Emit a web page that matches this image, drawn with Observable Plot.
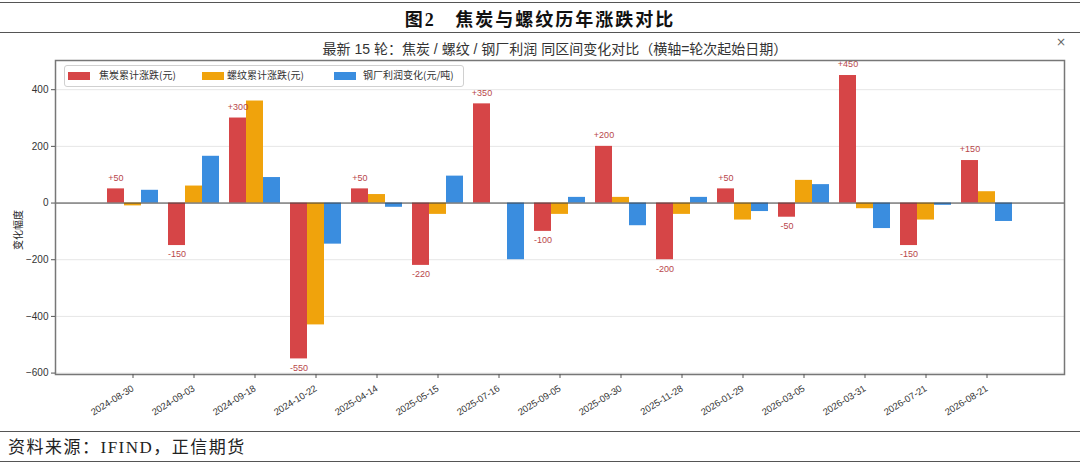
<!DOCTYPE html>
<html>
<head>
<meta charset="utf-8">
<script src="https://cdn.jsdelivr.net/npm/d3@7"></script>
<script src="https://cdn.jsdelivr.net/npm/@observablehq/plot@0.6"></script>
<style>
  html, body { margin: 0; padding: 0; background: #fff; }
  #page { position: relative; width: 1080px; height: 463px; overflow: hidden; background: #fff; }
  .hline { position: absolute; left: 0; width: 1080px; height: 0; border-top: 1.5px solid #555; }
  #title { position: absolute; top: 5px; left: 0; width: 1080px; text-align: center;
    font-family: "Liberation Serif", "Noto Sans CJK SC", serif; font-weight: bold; font-size: 18px; color: #111; letter-spacing: 2px; }
  #subtitle { position: absolute; top: 38px; left: 15px; width: 1080px; text-align: center;
    font-family: "Liberation Sans", "Noto Sans CJK SC", sans-serif; font-size: 14px; color: #333; }
  #close { position: absolute; top: 35px; left: 1056px; font-family: "DejaVu Sans", sans-serif; font-size: 12px; color: #666; }
  #chart { position: absolute; top: 36px; left: 0; }
  #ylabel { position: absolute; left: 17px; top: 230px; transform: translate(-50%, -50%) rotate(-90deg);
    font-family: "Noto Sans CJK SC", sans-serif; font-size: 10px; color: #222; white-space: nowrap; }
  #legend { position: absolute; left: 64px; top: 65px; width: 398px; height: 20px; border: 1px solid #d0d0d0; border-radius: 3px;
    background: rgba(255,255,255,0.85); font-family: "Noto Sans CJK SC", sans-serif; font-size: 10px; color: #333; }
  .sw { position: absolute; top: 6px; width: 22px; height: 8px; }
  .lt { position: absolute; top: 2px; white-space: nowrap; line-height: 14px; }
  #caption { position: absolute; top: 433px; left: 8px; font-family: "Liberation Serif", "Noto Sans CJK SC", serif; font-size: 17px; color: #222; letter-spacing: 1.5px; }
</style>
</head>
<body>
<div id="page">
  <div class="hline" style="top:2px"></div>
  <div id="title">图2&nbsp;&nbsp;&nbsp;焦炭与螺纹历年涨跌对比</div>
  <div class="hline" style="top:32px"></div>
  <div id="chart"></div>
  <div id="subtitle">最新 15 轮：焦炭 / 螺纹 / 钢厂利润 同区间变化对比（横轴=轮次起始日期）</div>
  <div id="close">×</div>
  <div id="ylabel">变化幅度</div>
  <div id="legend"></div>
  <div class="hline" style="top:431px"></div>
  <div id="caption">资料来源：IFIND，正信期货</div>
  <div class="hline" style="top:461px"></div>
</div>
<script>
// ---- data ----
const dates = ["2024-08-30","2024-09-03","2024-09-18","2024-10-22","2025-04-14","2025-05-15","2025-07-16","2025-09-05","2025-09-30","2025-11-28","2026-01-29","2026-03-05","2026-03-31","2026-07-21","2026-08-21"];
const coke   = [50, -150, 300, -550, 50, -220, 350, -100, 200, -200, 50, -50, 450, -150, 150];
const rebar  = [-10, 60, 360, -430, 30, -40, 0, -40, 20, -40, -60, 80, -20, -60, 40];
const profit = [45, 165, 90, -145, -15, 95, -200, 20, -80, 20, -30, 65, -90, -8, -65];
const seriesNames = ["焦炭累计涨跌(元)", "螺纹累计涨跌(元)", "钢厂利润变化(元/吨)"];
const colors = ["#d64547", "#f0a30c", "#3a8ddf"];
const yTicks = [-600, -400, -200, 0, 200, 400];

const rows = (vals) => dates.map((d, i) => ({date: d, value: vals[i]}));
const cokeRows = rows(coke), rebarRows = rows(rebar), profitRows = rows(profit);
const fmt = v => (v > 0 ? "+" : "") + v;

const chart = Plot.plot({
  width: 1080,
  height: 396,
  marginLeft: 55,
  marginRight: 16,
  marginTop: 24,
  marginBottom: 58,
  style: {fontFamily: "'Liberation Sans', Arial, sans-serif", color: "#333", background: "transparent"},
  x: {domain: dates, paddingInner: 0.724, paddingOuter: 1.052, label: null},
  y: {domain: [-605, 503], label: null},
  marks: [
    Plot.gridY(yTicks, {stroke: "#e6e6e6", strokeOpacity: 1}),
    Plot.barY(cokeRows, {x: "date", y: "value", fill: colors[0], dx: -17}),
    Plot.barY(rebarRows, {x: "date", y: "value", fill: colors[1]}),
    Plot.barY(profitRows, {x: "date", y: "value", fill: colors[2], dx: 17}),
    Plot.ruleY([0], {stroke: "#444", strokeWidth: 1}),
    Plot.text(cokeRows.filter(d => d.value > 0), {x: "date", y: "value", text: d => fmt(d.value), dx: -17, dy: -11, fill: "#b8474b", fontSize: 9}),
    Plot.text(cokeRows.filter(d => d.value < 0), {x: "date", y: "value", text: d => fmt(d.value), dx: -17, dy: 9, fill: "#b8474b", fontSize: 9}),
    Plot.frame({stroke: "#777", strokeWidth: 1.5}),
    Plot.axisY({ticks: yTicks, tickSize: 4, tickPadding: 3, fontSize: 10, label: null, stroke: "#555"}),
    Plot.axisX({tickRotate: -32, tickSize: 4, tickPadding: 9, fontSize: 9.5, label: null, stroke: "#555"})
  ]
});
document.getElementById("chart").appendChild(chart);

// legend
const lg = document.getElementById("legend");
const swX = [3, 137, 269], txX = [34, 162, 298];
seriesNames.forEach((name, i) => {
  const s = document.createElement("div");
  s.className = "sw"; s.style.left = swX[i] + "px"; s.style.background = colors[i];
  lg.appendChild(s);
  const t = document.createElement("div");
  t.className = "lt"; t.style.left = txX[i] + "px"; t.textContent = name;
  lg.appendChild(t);
});
</script>
</body>
</html>
